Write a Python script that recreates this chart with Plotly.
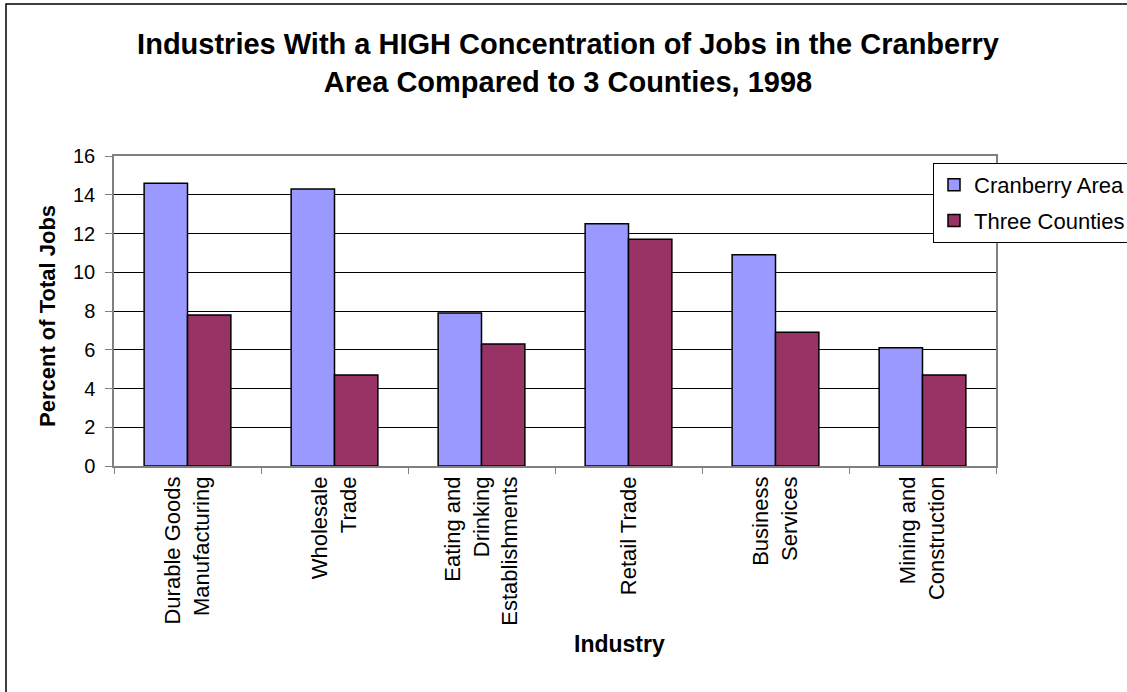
import plotly.graph_objects as go

categories = [
    "Durable Goods<br>Manufacturing",
    "Wholesale<br>Trade",
    "Eating and<br>Drinking<br>Establishments",
    "Retail Trade",
    "Business<br>Services",
    "Mining and<br>Construction",
]
cranberry_area = [14.6, 14.3, 7.9, 12.5, 10.9, 6.1]
three_counties = [7.8, 4.7, 6.3, 11.7, 6.9, 4.7]
y_ticks = [0, 2, 4, 6, 8, 10, 12, 14, 16]

FONT = "Liberation Sans, Arial, sans-serif"

W, H = 1127, 692
L, R, T, B = 114, 996, 156, 466  # plot area pixel bounds

fig = go.Figure()
fig.add_trace(go.Bar(
    name="Cranberry Area", x=categories, y=cranberry_area,
    marker=dict(color="#9999FF", line=dict(color="black", width=1.5)),
    legendgroup="a",
))
fig.add_trace(go.Bar(
    name="Three Counties", x=categories, y=three_counties,
    marker=dict(color="#993366", line=dict(color="black", width=1.5)),
    legendgroup="b",
))

def px_x(p):
    return (p - L) / (R - L)

def px_y(p):
    return (B - p) / (B - T)

fig.update_layout(
    width=W, height=H,
    margin=dict(l=L, r=W - R, t=T, b=H - B, pad=0, autoexpand=False),
    paper_bgcolor="white", plot_bgcolor="white",
    font=dict(family=FONT, size=20, color="black"),
    barmode="group", bargap=0.41, bargroupgap=0,
    showlegend=True,
    legend=dict(
        xref="container", yref="container",
        x=933 / W, y=1 - 163 / H, xanchor="left", yanchor="top",
        bordercolor="black", borderwidth=1, bgcolor="white",
        font=dict(family=FONT, size=22, color="black"),
        tracegroupgap=4,
    ),
    title=dict(
        text="Industries With a HIGH Concentration of Jobs in the Cranberry<br>Area Compared to 3 Counties, 1998",
        x=0.504, xanchor="center", y=1 - 54 / H, yanchor="middle",
        font=dict(family=FONT, size=29, color="black", weight="bold"),
    ),
    xaxis=dict(
        showline=True, linecolor="#808080", linewidth=1.5, mirror=True,
        ticks="outside", tickson="boundaries", ticklen=6, tickcolor="#808080",
        tickangle=-90, tickfont=dict(family=FONT, size=22),
        showgrid=False, automargin=False,
    ),
    yaxis=dict(
        range=[0, 16], tickvals=y_ticks,
        showline=True, linecolor="#808080", linewidth=1.5, mirror=True,
        ticks="outside", ticklen=7, tickcolor="#808080",
        ticklabelstandoff=6,
        showgrid=True, gridcolor="black", gridwidth=1,
        zeroline=False, tickfont=dict(family=FONT, size=20),
        automargin=False,
    ),
    annotations=[
        dict(text="<b>Percent of Total Jobs</b>", xref="paper", yref="paper",
             x=px_x(47), y=px_y(316), textangle=-90, showarrow=False,
             xanchor="center", yanchor="middle",
             font=dict(family=FONT, size=22)),
        dict(text="<b>Industry</b>", xref="paper", yref="paper",
             x=px_x(619), y=px_y(644), showarrow=False,
             xanchor="center", yanchor="middle",
             font=dict(family=FONT, size=23)),
    ],
    shapes=[
        dict(type="rect", xref="paper", yref="paper",
             x0=px_x(6), x1=px_x(W + 20), y0=px_y(H + 20), y1=px_y(4),
             line=dict(color="black", width=1.5), layer="below"),
    ],
)

fig.write_html("out.html")
